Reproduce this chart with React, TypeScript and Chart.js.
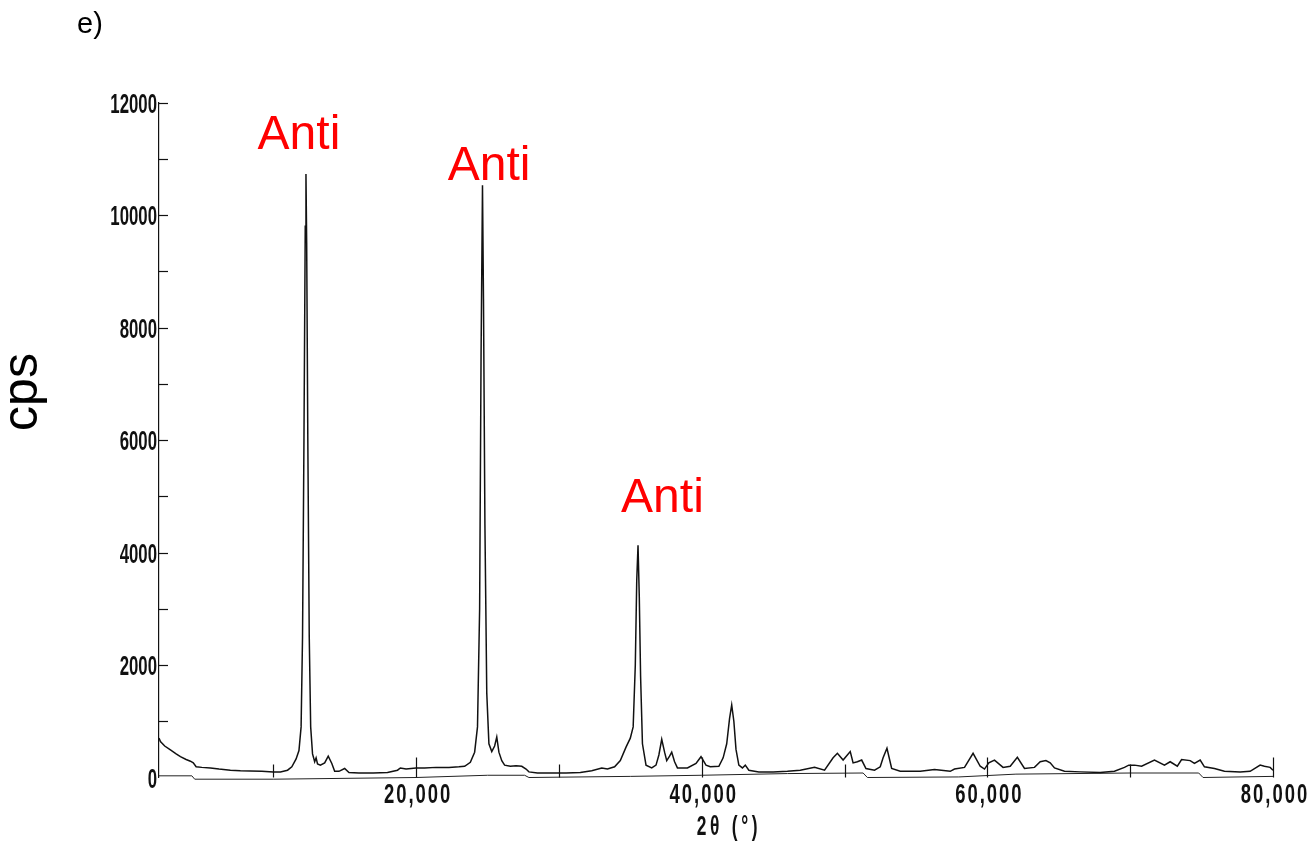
import React, { useEffect, useRef } from "react";
import { Chart, registerables } from "chart.js";

Chart.register(...registerables);

// Measured pattern (2θ in degrees, intensity in cps)
const twoTheta = [
  2.0, 2.1, 2.4, 2.8, 3.2, 3.5, 3.9, 4.2, 4.4, 4.6, 5.0, 5.6, 6.2, 7.0, 7.7, 8.4, 9.2, 10.0, 10.5, 11.0,
  11.3, 11.6, 11.8, 11.95, 12.05, 12.15, 12.24, 12.29, 12.34, 12.42, 12.52, 12.62, 12.75, 12.9, 13.0, 13.1,
  13.3, 13.6, 13.85, 14.1, 14.3, 14.6, 15.0, 15.3, 16.0, 17.0, 18.0, 18.7, 18.9, 19.3, 20.0, 20.6, 21.4,
  22.3, 23.0, 23.4, 23.8, 24.1, 24.3, 24.45, 24.55, 24.65, 24.72, 24.82, 24.95, 25.1, 25.3, 25.5, 25.65,
  25.8, 26.0, 26.2, 26.6, 27.0, 27.4, 27.7, 27.9, 28.5, 29.5, 30.5, 31.5, 32.3, 33.0, 33.4, 33.9, 34.3,
  34.7, 35.0, 35.2, 35.35, 35.45, 35.54, 35.63, 35.72, 35.85, 36.1, 36.5, 36.8, 37.0, 37.2, 37.4, 37.55,
  37.75, 37.9, 38.1, 38.3, 39.0, 39.6, 39.95, 40.3, 40.6, 41.2, 41.5, 41.75, 41.95, 42.1, 42.25, 42.4,
  42.6, 42.85, 43.05, 43.3, 44.0, 45.0, 46.0, 46.9, 47.9, 48.6, 49.2, 49.5, 49.9, 50.4, 50.6, 50.9, 51.2,
  51.5, 52.1, 52.5, 52.7, 52.97, 53.3, 53.9, 55.3, 56.3, 57.4, 57.7, 58.4, 59.0, 59.5, 59.8, 60.1, 60.5,
  61.1, 61.6, 62.1, 62.6, 63.3, 63.7, 64.1, 64.4, 64.7, 65.4, 66.5, 67.9, 68.9, 69.6, 69.9, 70.3, 70.8,
  71.7, 72.4, 72.8, 73.3, 73.6, 74.2, 74.5, 74.9, 75.2, 75.9, 76.6, 77.7, 78.4, 79.1, 79.4, 79.8, 80.0,
];
const cps = [
  700, 640, 560, 490, 420, 370, 320, 290, 260, 190, 180, 170, 150, 130, 120, 115, 110, 100, 100, 130,
  190, 330, 480, 900, 2500, 6000, 9800, 10730, 9500, 6000, 2500, 900, 420, 280, 350, 240,
  220, 260, 380, 250, 110, 110, 160, 90, 80, 80, 90, 130, 170, 150, 170, 170, 180,
  180, 190, 200, 270, 450, 900, 3000, 7500, 10530, 8500, 4500, 1500, 600, 460, 560, 720,
  450, 300, 220, 200, 210, 200, 150, 100, 80, 80, 80, 90, 120, 170, 150, 190, 300,
  540, 700, 900, 2000, 3500, 4130, 3200, 1800, 600, 220, 170, 220, 400, 680, 450, 300,
  380, 450, 280, 170, 170, 250, 370, 220, 190, 200, 350, 600, 1050, 1290, 1000, 500,
  220, 170, 220, 130, 100, 100, 110, 130, 180, 130, 350, 430, 310, 460, 260, 280, 310,
  160, 130, 190, 350, 520, 160, 110, 110, 140, 110, 150, 180, 430, 200, 150, 260, 310,
  180, 200, 360, 160, 180, 280, 300, 260, 170, 110, 100, 90, 110, 180, 220, 220, 200,
  310, 220, 280, 200, 320, 300, 250, 310, 190, 160, 110, 100, 110, 220, 200, 180, 130,
];

// Instrument background line
const bgTwoTheta = [2, 4.3, 4.5, 10, 20, 25, 27.6, 27.9, 35, 40, 46, 51.3, 51.6, 58, 62, 70, 74.8, 75.1, 80];
const bgCps = [30, 30, -30, -30, 0, 40, 40, 0, 20, 40, 70, 80, 0, 10, 60, 80, 80, 0, 20];

const xLabelValues = [20, 40, 60, 80];
const xTickMarks = [10, 20, 30, 40, 50, 60, 70, 80];
const yLabelValues = [0, 2000, 4000, 6000, 8000, 10000, 12000];
const yTickMarks = [1000, 2000, 3000, 4000, 5000, 6000, 7000, 8000, 9000, 10000, 11000, 12000];

const annotationText = ["Anti", "Anti", "Anti"];
const annotationX = [11.8, 25.11, 37.25];
const annotationY = [11173, 10622, 4720];

const panelLabel = "e)";
const yTitle = "cps";
const xTitle = "2θ (°)";

const SANS = '"Liberation Sans", Arial, "Noto Sans", sans-serif';

function condensedText(
  ctx: CanvasRenderingContext2D,
  text: string,
  x: number,
  y: number,
  align: CanvasTextAlign,
  sx: number
) {
  ctx.save();
  ctx.translate(x, y);
  ctx.scale(sx, 1);
  ctx.textAlign = align;
  ctx.textBaseline = "alphabetic";
  ctx.fillText(text, 0, 0);
  ctx.restore();
}

const overlayPlugin = {
  id: "overlay",
  afterDraw(chart: any) {
    const ctx = chart.ctx as CanvasRenderingContext2D;
    const xs = chart.scales.x;
    const ys = chart.scales.y;
    const left = chart.chartArea.left;
    const base = ys.getPixelForValue(0);
    ctx.save();
    ctx.strokeStyle = "#111";
    ctx.lineWidth = 1.2;
    yTickMarks.forEach((v) => {
      const py = Math.round(ys.getPixelForValue(v)) + 0.5;
      ctx.beginPath();
      ctx.moveTo(left, py);
      ctx.lineTo(left + 9, py);
      ctx.stroke();
    });
    xTickMarks.forEach((v) => {
      const px = Math.round(xs.getPixelForValue(v)) + 0.5;
      const len = v % 20 === 0 ? 20 : 13;
      ctx.beginPath();
      ctx.moveTo(px, base);
      ctx.lineTo(px, base - len);
      ctx.stroke();
    });

    // tick labels (condensed, as on the instrument printout)
    ctx.fillStyle = "#111";
    ctx.font = `bold 28px ${SANS}`;
    yLabelValues.forEach((v) => {
      condensedText(ctx, String(v), left - 2, ys.getPixelForValue(v) + 10, "right", 0.6);
    });
    (ctx as any).letterSpacing = "3px";
    xLabelValues.forEach((v) => {
      condensedText(ctx, `${v},000`, xs.getPixelForValue(v) + 2, 803, "center", 0.66);
    });

    // x title
    (ctx as any).letterSpacing = "6px";
    condensedText(ctx, xTitle, 729, 835, "center", 0.62);
    (ctx as any).letterSpacing = "0px";

    // annotations
    ctx.fillStyle = "#ff0000";
    ctx.font = `48px ${SANS}`;
    ctx.textAlign = "center";
    ctx.textBaseline = "alphabetic";
    annotationText.forEach((t, i) => {
      ctx.fillText(t, xs.getPixelForValue(annotationX[i]), ys.getPixelForValue(annotationY[i]));
    });

    // panel label
    ctx.fillStyle = "#000";
    ctx.font = `29px ${SANS}`;
    ctx.textAlign = "left";
    ctx.fillText(panelLabel, 77, 33);

    // y title
    ctx.save();
    ctx.translate(37, 392);
    ctx.rotate(-Math.PI / 2);
    ctx.font = `50px ${SANS}`;
    ctx.textAlign = "center";
    ctx.fillText(yTitle, 0, 0);
    ctx.restore();

    ctx.restore();
  },
};

export default function App() {
  const canvasRef = useRef<HTMLCanvasElement | null>(null);

  useEffect(() => {
    document.body.style.margin = "0";
    document.body.style.overflow = "hidden";
    const canvas = canvasRef.current;
    if (!canvas) return;
    const mainData = twoTheta.map((x, i) => ({ x, y: cps[i] }));
    const bgData = bgTwoTheta.map((x, i) => ({ x, y: bgCps[i] }));
    const chart = new Chart(canvas, {
      type: "line",
      data: {
        datasets: [
          {
            label: "pattern",
            data: mainData,
            borderColor: "#111",
            borderWidth: 1.5,
            pointRadius: 0,
            tension: 0,
            fill: false,
          },
          {
            label: "background",
            data: bgData,
            borderColor: "#222",
            borderWidth: 1,
            pointRadius: 0,
            tension: 0,
            fill: false,
            clip: false,
          } as any,
        ],
      },
      options: {
        responsive: false,
        animation: false,
        devicePixelRatio: 1,
        layout: { padding: { top: 102.5, right: 40, left: 0, bottom: 0 } },
        plugins: {
          legend: { display: false },
          tooltip: { enabled: false },
          title: { display: false },
        },
        scales: {
          x: {
            type: "linear",
            min: 2,
            max: 80,
            afterFit: (s: any) => {
              s.height = 66.5;
            },
            grid: { display: false, drawTicks: false },
            border: { display: false },
            ticks: { display: false, stepSize: 10 },
          },
          y: {
            type: "linear",
            min: 0,
            max: 12000,
            afterFit: (s: any) => {
              s.width = 159;
            },
            grid: { display: false, drawTicks: false },
            border: { display: true, color: "#111", width: 1.2 },
            ticks: { display: false, stepSize: 1000 },
          },
        },
      },
      plugins: [overlayPlugin],
    });
    return () => chart.destroy();
  }, []);

  return (
    <div style={{ width: 1313, height: 844, background: "#fff" }}>
      <canvas ref={canvasRef} width={1313} height={844} style={{ display: "block" }} />
    </div>
  );
}
